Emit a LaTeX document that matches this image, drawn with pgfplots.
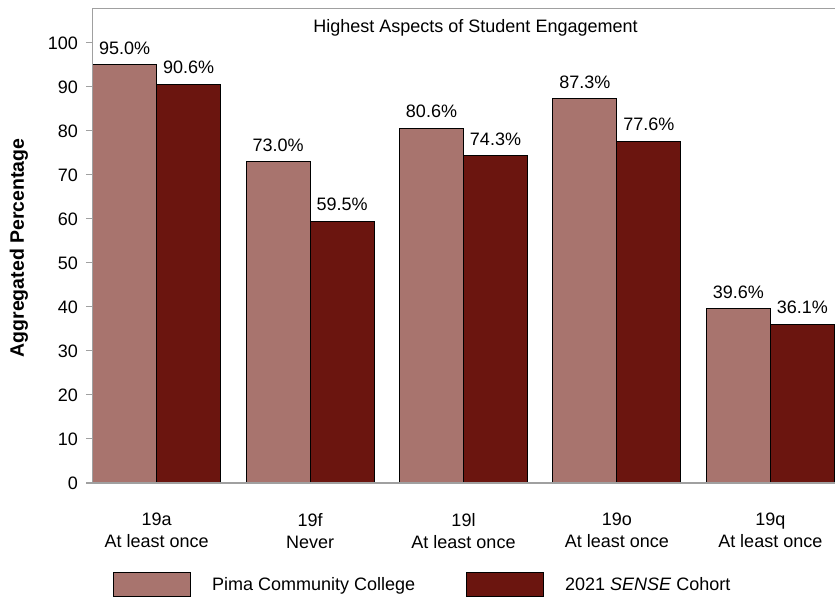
\documentclass[border=0pt]{standalone}
\usepackage{pgfplots}
\pgfplotsset{compat=1.18}
\usepackage{fontspec}
\setmainfont{Liberation Sans}
\definecolor{pima}{HTML}{A8746E}
\definecolor{sense}{HTML}{6B150F}
\definecolor{axgray}{HTML}{A0A0A0}
\begin{document}
\begin{tikzpicture}
\fontsize{18}{21.6}\selectfont
\path[use as bounding box] (0pt,0pt) rectangle (835pt,598pt);
\begin{axis}[
  at={(92pt,115pt)}, anchor=south west,
  scale only axis, width=743pt, height=474pt,
  xmin=-0.422, xmax=4.422, ymin=0, ymax=107.7,
  ybar=0pt, bar width=64pt,
  axis line style={draw=none},
  xtick={0,1,2,3,4},
  xticklabels={{19a\\At least once},{19f\\Never},{19l\\At least once},{19o\\At least once},{19q\\At least once}},
  xticklabel style={align=center, font=\fontsize{18}{22}\selectfont, yshift=-18pt},
  xtick style={draw=none},
  ytick={0,10,...,100},
  ytick style={draw=axgray, line width=1pt},
  tick align=outside, major tick length=6pt,
  ytick pos=left,
  yticklabel style={font=\fontsize{18}{21.6}\selectfont, xshift=-2pt},
  /pgf/number format/assume math mode=true,
  ylabel={\bfseries Aggregated Percentage},
  ylabel style={font=\fontsize{19.5}{23}\selectfont, at={(rel axis cs:-0.0985,0.496)}, anchor=center, rotate=0},
  title={Highest Aspects of Student Engagement},
  title style={font=\fontsize{18}{21.6}\selectfont, at={(rel axis cs:0.5,1)}, anchor=north, yshift=-10pt, xshift=12pt},
  nodes near coords={\pgfmathprintnumber[fixed,fixed zerofill,precision=1]{\pgfplotspointmeta}\%},
  nodes near coords style={font=\fontsize{18}{21.6}\selectfont, anchor=south, inner sep=0pt, yshift=10pt},
  legend style={draw=none, fill=none, at={(rel axis cs:0.0242,-0.215)}, anchor=west,
     nodes={inner sep=0pt, font=\fontsize{18}{21.6}\selectfont},
     /tikz/every odd column/.append style={column sep=21pt}},
  legend columns=2,
  legend image code/.code={\draw[#1, draw=black, line width=1pt] (0pt,-12pt) rectangle (77pt,12pt);},
  clip=false,
  after end axis/.code={
    \draw[axgray, line width=1pt] (rel axis cs:0,0) -- (rel axis cs:0,1) -- (rel axis cs:1,1);
    \draw[axgray, line width=2pt] ([xshift=-6pt]rel axis cs:0,0) -- (rel axis cs:1,0);
  },
]
\addplot[fill=pima, draw=black, line width=1pt] coordinates {(0,95.0) (1,73.0) (2,80.6) (3,87.3) (4,39.6)};
\addplot[fill=sense, draw=black, line width=1pt] coordinates {(0,90.6) (1,59.5) (2,74.3) (3,77.6) (4,36.1)};
\legend{\makebox[254pt][l]{Pima Community College}, 2021 \textit{SENSE} Cohort}
\end{axis}
\end{tikzpicture}
\end{document}
